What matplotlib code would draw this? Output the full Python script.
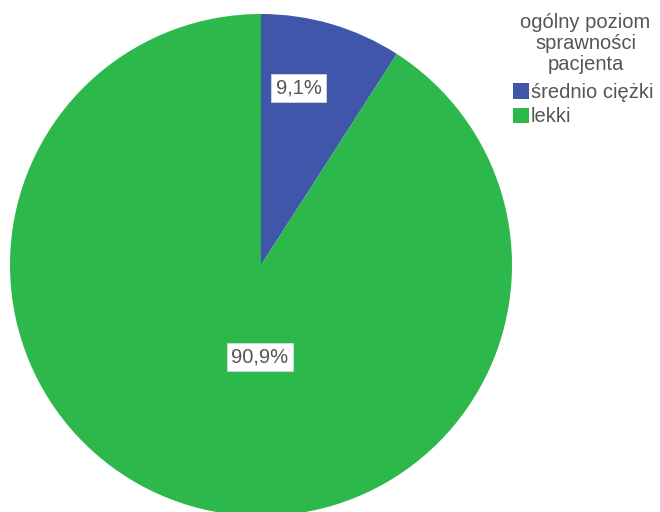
import matplotlib

matplotlib.use("Agg")
import matplotlib.pyplot as plt  # noqa: E402
from matplotlib.patches import Patch  # noqa: E402

# --- Datos ---
kategorie = ["średnio ciężki", "lekki"]
udzialy = [9.1, 90.9]
etykiety = ["9,1%", "90,9%"]
tytul_legendy = "ogólny poziom\nsprawności\npacjenta"

# --- Estilo ---
KOLORY = ["#3f56aa", "#2db84b"]
SZARY = "#555555"
plt.rcParams["font.family"] = ["Liberation Sans", "DejaVu Sans"]

W, H = 660, 512
fig = plt.figure(figsize=(W / 100, H / 100), dpi=100)
ax = fig.add_axes([10 / W, -4 / H, 502 / W, 502 / H])

kliny, _ = ax.pie(
    udzialy,
    colors=KOLORY,
    startangle=90,
    counterclock=False,
    radius=1,
    wedgeprops={"linewidth": 0},
)
for k in kliny:
    k.set_clip_on(False)

# posiciones de etiquetas (fraccion del radio)
pozycje = [(0.15, 0.705), (-0.004, -0.367)]
for (x, y), tekst in zip(pozycje, etykiety):
    ax.text(
        x, y, tekst, ha="center", va="center", fontsize=14.5, color=SZARY,
        bbox={"boxstyle": "square,pad=0.22", "fc": "white", "ec": "#d8d8d8", "lw": 0.6},
    )

ax.set_xlim(-1, 1)
ax.set_ylim(-1, 1)
ax.set_aspect("equal")
ax.axis("off")

# titulo de la leyenda como texto aparte (mas separacion que la del VPacker)
fig.text(
    585.5 / W, 1 - 13 / H, tytul_legendy, ha="center", va="top",
    fontsize=14.5, color=SZARY, linespacing=1.13, multialignment="center",
)

uchwyty = [Patch(facecolor=c, edgecolor="none") for c in KOLORY]
leg = fig.legend(
    uchwyty,
    kategorie,
    loc="upper left",
    bbox_to_anchor=(513 / W, 1 - 83 / H),
    frameon=False,
    fontsize=14.5,
    handlelength=0.8,
    handleheight=0.8,
    handletextpad=0.1,
    labelspacing=0.27,
    borderpad=0,
    borderaxespad=0,
)
for t in leg.get_texts():
    t.set_color(SZARY)

fig.savefig("out.png", dpi=100)
